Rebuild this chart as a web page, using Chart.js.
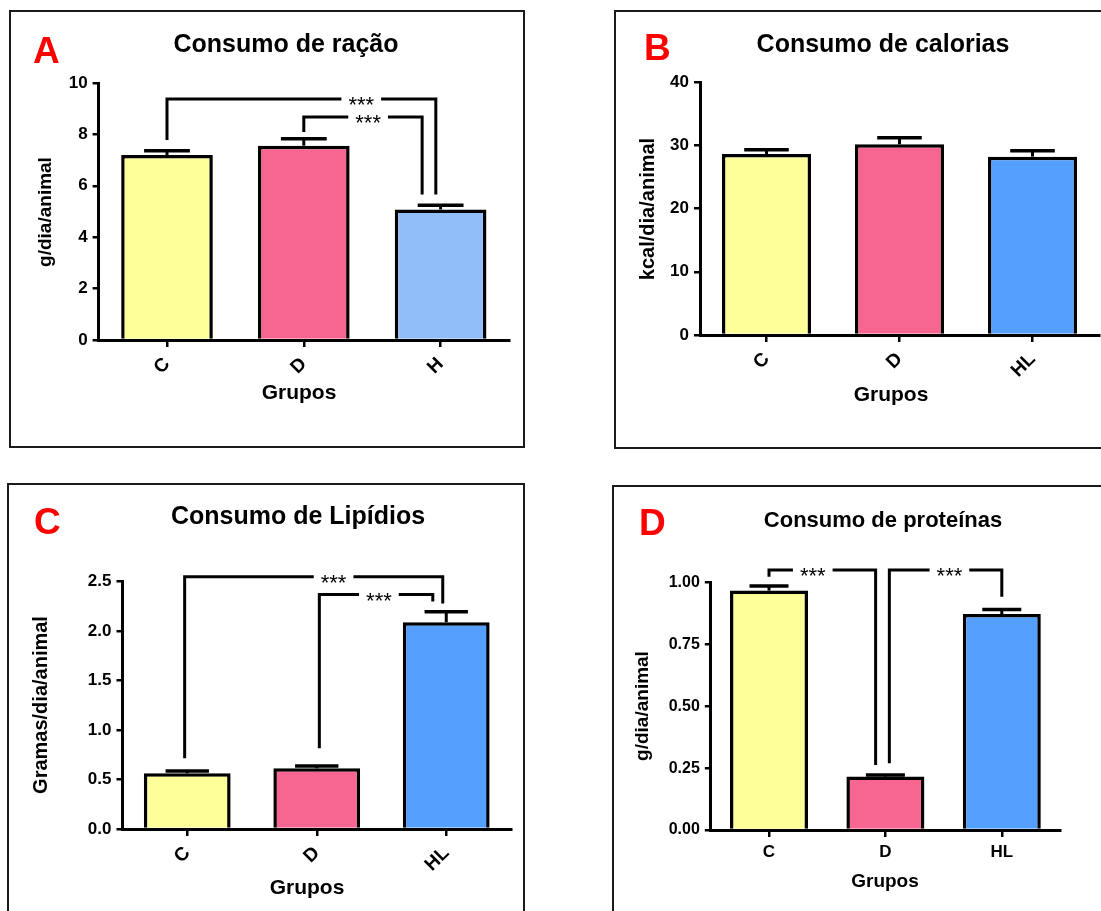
<!DOCTYPE html>
<html>
<head>
<meta charset="utf-8">
<title>Consumo alimentar por grupo</title>
<script src="https://cdn.jsdelivr.net/npm/chart.js@4.4.0/dist/chart.umd.min.js"></script>
<style>
  html, body { margin: 0; padding: 0; background: #ffffff; }
  body { width: 1101px; height: 911px; position: relative; overflow: hidden; }
  .box { position: absolute; border: 2px solid #1b1b1b; box-sizing: border-box; }
  .wrap { position: absolute; }
  canvas { display: block; }
</style>
</head>
<body>
<script>
// ---- data ----
const panelLetters = ['A', 'B', 'C', 'D'];
const panelTitles = ['Consumo de ração', 'Consumo de calorias', 'Consumo de Lipídios', 'Consumo de proteínas'];
const yTitles = ['g/dia/animal', 'kcal/dia/animal', 'Gramas/dia/animal', 'g/dia/animal'];
const xTitle = 'Grupos';

const groupsA = ['C', 'D', 'H'];
const groupsBCD = ['C', 'D', 'HL'];

// mean and SEM per group
const racaoMean = [7.20, 7.56, 5.08];
const racaoSem = [0.16, 0.27, 0.16];
const caloriasMean = [28.6, 30.15, 28.2];
const caloriasSem = [0.7, 1.05, 0.95];
const lipidiosMean = [0.563, 0.614, 2.09];
const lipidiosSem = [0.023, 0.023, 0.107];
const proteinasMean = [0.968, 0.216, 0.873];
const proteinasSem = [0.019, 0.006, 0.019];

// y axis ranges
const yMax = [10, 40, 2.5, 1.0];
const yStep = [2, 10, 0.5, 0.25];
const yDecimals = [0, 0, 1, 2];

// significance brackets: legs in category units, heights in axis units
const bracketsA = [
  { from: 0, to: 1.965, top: 9.38, fromEnd: 7.78, toEnd: 5.66, at: 1.42, label: '***' },
  { from: 1.0, to: 1.865, top: 8.68, fromEnd: 8.09, toEnd: 5.66, at: 1.47, label: '***' }
];
const bracketsB = [];
const bracketsC = [
  { from: -0.02, to: 1.973, top: 2.55, fromEnd: 0.715, toEnd: 2.28, at: 1.13, label: '***' },
  { from: 1.02, to: 1.896, top: 2.37, fromEnd: 0.816, toEnd: 2.30, at: 1.48, label: '***' }
];
const bracketsD = [
  { from: 0, to: 0.916, top: 1.051, fromEnd: 1.024, toEnd: 0.263, at: 0.376, label: '***' },
  { from: 1.034, to: 2.0, top: 1.051, fromEnd: 0.27, toEnd: 0.943, at: 1.55, label: '***' }
];

const yellow = '#FFFF99';
const pink = '#F76591';
const lightBlue = '#91BEF8';
const blue = '#559FFF';

// ---- layout ----
const FONT = '"Liberation Sans", Arial, Helvetica, sans-serif';

const panels = [
  {
    box: { left: 9, top: 10, width: 516, height: 438 },
    canvas: { left: 10, top: 11, w: 514, h: 437 },
    plot: { left: 88.6, right: 499, top: 72, bottom: 329 },
    labels: groupsA, mean: racaoMean, sem: racaoSem, colors: [yellow, pink, lightBlue],
    brackets: bracketsA, idx: 0, rot: 45, xTickSize: 19, xTickPad: 6,
    letterPos: [23, 52], titlePos: [276, 34], titleSize: 25,
    yTitlePos: [36, 201], yTitleSize: 19, xTitlePos: [289, 382], xTitleSize: 21, yTickSize: 17
  },
  {
    box: { left: 614, top: 10, width: 600, height: 439 },
    canvas: { left: 615, top: 11, w: 486, h: 437 },
    plot: { left: 85, right: 484, top: 71, bottom: 324 },
    labels: groupsBCD, mean: caloriasMean, sem: caloriasSem, colors: [yellow, pink, blue],
    brackets: bracketsB, idx: 1, rot: 45, xTickSize: 19, xTickPad: 6,
    letterPos: [29, 49], titlePos: [268, 34], titleSize: 25,
    yTitlePos: [33, 198], yTitleSize: 20, xTitlePos: [276, 384], xTitleSize: 21, yTickSize: 17
  },
  {
    box: { left: 7, top: 483, width: 518, height: 600 },
    canvas: { left: 9, top: 484, w: 515, h: 427 },
    plot: { left: 113.5, right: 502, top: 97.7, bottom: 345 },
    labels: groupsBCD, mean: lipidiosMean, sem: lipidiosSem, colors: [yellow, pink, blue],
    brackets: bracketsC, idx: 2, rot: 45, xTickSize: 19, xTickPad: 6,
    letterPos: [25, 50], titlePos: [289, 33], titleSize: 25,
    yTitlePos: [32, 221], yTitleSize: 20, xTitlePos: [298, 404], xTitleSize: 21, yTickSize: 17
  },
  {
    box: { left: 612, top: 485, width: 600, height: 600 },
    canvas: { left: 613, top: 486, w: 488, h: 425 },
    plot: { left: 97.8, right: 447, top: 96.7, bottom: 344 },
    labels: groupsBCD, mean: proteinasMean, sem: proteinasSem, colors: [yellow, pink, blue],
    brackets: bracketsD, idx: 3, rot: 0, xTickSize: 17, xTickPad: 5,
    letterPos: [26, 49], titlePos: [270, 35], titleSize: 22,
    yTitlePos: [30, 220], yTitleSize: 19, xTitlePos: [272, 396], xTitleSize: 19, yTickSize: 16
  }
];

// error bars, significance brackets and panel texts
function panelDecor(p) {
  return {
    id: 'panelDecor',
    afterDatasetsDraw(chart) {
      const ctx = chart.ctx;
      const xs = chart.scales.x, ys = chart.scales.y;
      const meta = chart.getDatasetMeta(0);
      ctx.save();
      ctx.strokeStyle = '#000';
      ctx.fillStyle = '#000';
      ctx.lineCap = 'butt';
      // SEM (upper only)
      p.sem.forEach((s, i) => {
        const bar = meta.data[i];
        const yBase = ys.getPixelForValue(p.mean[i]);
        const yTop = ys.getPixelForValue(p.mean[i] + s);
        const cap = bar.width * 0.5;
        ctx.lineWidth = 3;
        ctx.beginPath();
        ctx.moveTo(bar.x, yBase);
        ctx.lineTo(bar.x, yTop);
        ctx.stroke();
        ctx.lineWidth = 3.5;
        ctx.beginPath();
        ctx.moveTo(bar.x - cap / 2, yTop);
        ctx.lineTo(bar.x + cap / 2, yTop);
        ctx.stroke();
      });
      // brackets with stars
      ctx.font = '22px ' + FONT;
      ctx.lineJoin = 'miter';
      p.brackets.forEach(b => {
        const x1 = xs.getPixelForValue(b.from);
        const x2 = xs.getPixelForValue(b.to);
        const yt = ys.getPixelForValue(b.top);
        const y1 = ys.getPixelForValue(b.fromEnd);
        const y2 = ys.getPixelForValue(b.toEnd);
        const lx = xs.getPixelForValue(b.at);
        const tw = ctx.measureText(b.label).width;
        const g1 = lx - tw / 2 - 7, g2 = lx + tw / 2 + 7;
        ctx.lineWidth = 3;
        ctx.beginPath();
        ctx.moveTo(x1, y1);
        ctx.lineTo(x1, yt);
        ctx.lineTo(g1, yt);
        ctx.moveTo(g2, yt);
        ctx.lineTo(x2, yt);
        ctx.lineTo(x2, y2);
        ctx.stroke();
        ctx.textAlign = 'center';
        ctx.textBaseline = 'alphabetic';
        ctx.fillText(b.label, lx, yt + 13);
      });
      ctx.restore();
    },
    afterDraw(chart) {
      const ctx = chart.ctx;
      ctx.save();
      // panel letter
      ctx.fillStyle = '#FF0000';
      ctx.font = 'bold 37px ' + FONT;
      ctx.textAlign = 'left';
      ctx.textBaseline = 'alphabetic';
      ctx.fillText(panelLetters[p.idx], p.letterPos[0], p.letterPos[1]);
      // title
      ctx.fillStyle = '#000';
      ctx.textAlign = 'center';
      ctx.textBaseline = 'middle';
      ctx.font = 'bold ' + p.titleSize + 'px ' + FONT;
      ctx.fillText(panelTitles[p.idx], p.titlePos[0], p.titlePos[1]);
      // x axis title
      ctx.font = 'bold ' + p.xTitleSize + 'px ' + FONT;
      ctx.fillText(xTitle, p.xTitlePos[0], p.xTitlePos[1]);
      // y axis title
      ctx.translate(p.yTitlePos[0], p.yTitlePos[1]);
      ctx.rotate(-Math.PI / 2);
      ctx.font = 'bold ' + p.yTitleSize + 'px ' + FONT;
      ctx.fillText(yTitles[p.idx], 0, 0);
      ctx.restore();
    }
  };
}

panels.forEach(p => {
  const box = document.createElement('div');
  box.className = 'box';
  Object.assign(box.style, {
    left: p.box.left + 'px', top: p.box.top + 'px',
    width: p.box.width + 'px', height: p.box.height + 'px'
  });
  document.body.appendChild(box);

  const wrap = document.createElement('div');
  wrap.className = 'wrap';
  Object.assign(wrap.style, {
    left: p.canvas.left + 'px', top: p.canvas.top + 'px',
    width: p.canvas.w + 'px', height: p.canvas.h + 'px'
  });
  const canvas = document.createElement('canvas');
  canvas.width = p.canvas.w;
  canvas.height = p.canvas.h;
  canvas.style.width = p.canvas.w + 'px';
  canvas.style.height = p.canvas.h + 'px';
  wrap.appendChild(canvas);
  document.body.appendChild(wrap);

  const i = p.idx;
  new Chart(canvas, {
    type: 'bar',
    data: {
      labels: p.labels,
      datasets: [{
        data: p.mean,
        backgroundColor: p.colors,
        borderColor: '#000',
        borderWidth: 3.5,
        borderSkipped: 'start',
        barPercentage: 0.67,
        categoryPercentage: 1
      }]
    },
    options: {
      responsive: false,
      maintainAspectRatio: false,
      animation: false,
      devicePixelRatio: 1,
      events: [],
      layout: {
        padding: { left: 0, top: p.plot.top, right: p.canvas.w - p.plot.right, bottom: 0 }
      },
      plugins: {
        legend: { display: false },
        tooltip: { enabled: false },
        title: { display: false }
      },
      scales: {
        x: {
          offset: true,
          grid: {
            offset: false, drawOnChartArea: false, drawTicks: true,
            tickLength: 7, color: '#000', lineWidth: 2.5
          },
          border: { display: true, color: '#000', width: 3 },
          ticks: {
            color: '#000', autoSkip: false,
            minRotation: p.rot, maxRotation: p.rot, padding: p.xTickPad,
            font: { family: FONT, weight: 'bold', size: p.xTickSize }
          },
          afterFit(scale) { scale.height = p.canvas.h - p.plot.bottom; }
        },
        y: {
          min: 0,
          max: yMax[i],
          grid: {
            drawOnChartArea: false, drawTicks: true,
            tickLength: 6, color: '#000', lineWidth: 2.5
          },
          border: { display: true, color: '#000', width: 3 },
          ticks: {
            stepSize: yStep[i], color: '#000', padding: 5,
            font: { family: FONT, weight: 'bold', size: p.yTickSize },
            callback: v => Number(v).toFixed(yDecimals[i])
          },
          afterFit(scale) { scale.width = p.plot.left; }
        }
      }
    },
    plugins: [panelDecor(p)]
  });
});
</script>
</body>
</html>
